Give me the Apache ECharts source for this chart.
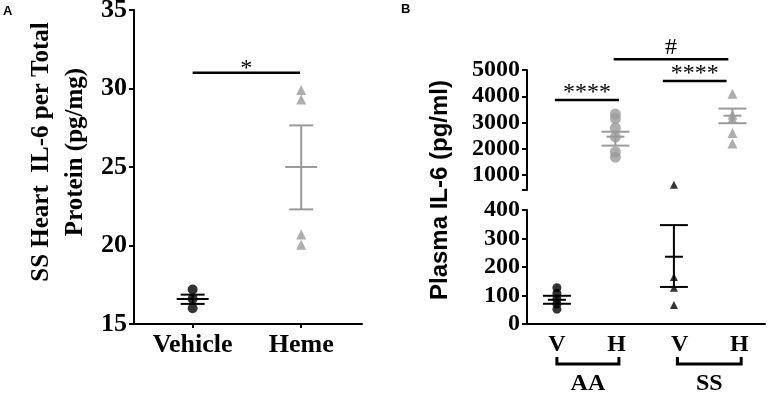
<!DOCTYPE html>
<html><head><meta charset="utf-8">
<script src="https://cdn.jsdelivr.net/npm/echarts@6/dist/echarts.min.js"></script>
<style>html,body{margin:0;padding:0;background:#fff}#c{width:768px;height:394px}</style>
</head><body><div id="c"></div>
<script>
// ---------- Panel A data ----------
const aCategories = ['Vehicle', 'Heme'];
const aCatPos = [1, 2];
const aTickLabels = [15, 20, 25, 30, 35];
const aVehicle = [17.2, 16.6, 16.0];
const aHeme = [29.9, 29.3, 20.7, 20.05];
const aVehicleStats = [16.6, 16.28, 16.87];   // mean, SEM low, SEM high
const aHemeStats = [25.0, 22.3, 27.65];
const aSig = [[1.0, 1.99, 31.0]];
const aSigText = ['*'];

// ---------- Panel B data ----------
const bCategories = ['V', 'H', 'V', 'H'];
const bCatPos = [1, 2.02, 3.1, 4.12];
const bGroups = ['AA', 'SS'];
const bGroupSpan = [[1.0, 2.06], [3.06, 4.15]];
const bTopTicks = [1000, 2000, 3000, 4000, 5000];
const bBottomTicks = [0, 100, 200, 300, 400];
const bTopMin = 430;      // lower end of the upper axis segment
const bBottomMax = 400;   // upper end of the lower axis segment
const bAAV = [127, 108, 88, 70, 52];
const bAAH = [3320, 3150, 2800, 2450, 1880, 1680];
const bSSV = [630, 165, 127, 67];
const bSSH = [4100, 3300, 3150, 2600, 2200];
const bAAVStats = [85, 71, 99];
const bAAHStats = [2460, 2120, 2650];
const bSSVStats = [236, 130, 347];
const bSSHStats = [3260, 2973, 3530];
const bSig = [[0.966, 2.06, 3857], [2.81, 3.90, 4581], [1.97, 3.93, 5408]];
const bSigText = ['****', '****', '#'];

// ---------- helpers ----------
const SERIF = 'Liberation Serif';
const GRAY = '#9a9a9a';

function errRender(capW, meanW, color) {
  return function (params, api) {
    const x = api.value(0), m = api.value(1), lo = api.value(2), hi = api.value(3);
    const pm = api.coord([x, m]), pl = api.coord([x, lo]), ph = api.coord([x, hi]);
    const st = { stroke: color, lineWidth: 2 };
    return { type: 'group', children: [
      { type: 'line', shape: { x1: pl[0], y1: pl[1], x2: ph[0], y2: ph[1] }, style: st },
      { type: 'line', shape: { x1: pl[0] - capW, y1: pl[1], x2: pl[0] + capW, y2: pl[1] }, style: st },
      { type: 'line', shape: { x1: ph[0] - capW, y1: ph[1], x2: ph[0] + capW, y2: ph[1] }, style: st },
      { type: 'line', shape: { x1: pm[0] - meanW, y1: pm[1], x2: pm[0] + meanW, y2: pm[1] }, style: st }
    ]};
  };
}
function sigRender(texts, fontSize, starOff, otherOff) {
  return function (params, api) {
    const p1 = api.coord([api.value(0), api.value(2)]);
    const p2 = api.coord([api.value(1), api.value(2)]);
    const t = texts[params.dataIndex];
    const off = t.indexOf('*') >= 0 ? starOff : otherOff;
    return { type: 'group', children: [
      { type: 'line', shape: { x1: p1[0], y1: p1[1], x2: p2[0], y2: p2[1] }, style: { stroke: '#000', lineWidth: 2.5 } },
      { type: 'text', style: { text: t, x: (p1[0] + p2[0]) / 2, y: p1[1] + off, align: 'center', verticalAlign: 'middle',
        fontFamily: SERIF, fontSize: fontSize, fill: '#000' } }
    ]};
  };
}
function bracketRender(params, api) {
  const p1 = api.coord([api.value(0), 0]);
  const p2 = api.coord([api.value(1), 0]);
  const y = p1[1];
  return { type: 'group', children: [
    { type: 'polyline', shape: { points: [[p1[0], y + 33], [p1[0], y + 40], [p2[0], y + 40], [p2[0], y + 33]] },
      style: { stroke: '#000', lineWidth: 3, fill: null } },
    { type: 'text', style: { text: bGroups[params.dataIndex], x: (p1[0] + p2[0]) / 2, y: y + 60, align: 'center',
      verticalAlign: 'middle', fontFamily: SERIF, fontWeight: 'bold', fontSize: 24, fill: '#000' } }
  ]};
}
const pts = (x, arr) => arr.map(v => [x, v]);
const axisLine = { show: true, onZero: false, lineStyle: { color: '#000', width: 2 } };
const tickStyle = { color: '#000', width: 2 };
const plain = v => String(v);

const chart = echarts.init(document.getElementById('c'), null, { renderer: 'canvas' });
chart.setOption({
  animation: false,
  backgroundColor: '#fff',
  title: [
    { text: 'A', left: 3, top: 5, padding: 0, textStyle: { fontSize: 13, fontWeight: 'bold', fontFamily: 'Liberation Sans', color: '#000' } },
    { text: 'B', left: 401, top: 3, padding: 0, textStyle: { fontSize: 13, fontWeight: 'bold', fontFamily: 'Liberation Sans', color: '#000' } }
  ],
  grid: [
    { left: 134, top: 10, width: 228, height: 314, outerBoundsMode: 'none' },
    { left: 527, top: 70, width: 238, height: 120, outerBoundsMode: 'none' },
    { left: 527, top: 210, width: 238, height: 114, outerBoundsMode: 'none' },
    { left: 527, top: 56, width: 238, height: 268, outerBoundsMode: 'none' }
  ],
  xAxis: [
    { gridIndex: 0, type: 'value', min: 0.46, max: 2.56, splitLine: { show: false }, axisLine: axisLine,
      axisTick: { show: true, length: 4, lineStyle: tickStyle, customValues: aCatPos },
      axisLabel: { customValues: aCatPos, formatter: v => aCategories[aCatPos.indexOf(v)] || '', margin: 8,
        fontFamily: SERIF, fontWeight: 'bold', fontSize: 26, color: '#000' } },
    { gridIndex: 1, type: 'value', min: 0.489, max: 4.557, show: false },
    { gridIndex: 2, type: 'value', min: 0.489, max: 4.557, splitLine: { show: false }, axisLine: axisLine,
      axisTick: { show: false },
      axisLabel: { customValues: bCatPos, formatter: v => bCategories[bCatPos.indexOf(v)] || '', margin: 9,
        fontFamily: SERIF, fontWeight: 'bold', fontSize: 24, color: '#000' } },
    { gridIndex: 3, type: 'value', min: 0, max: 1, show: false }
  ],
  yAxis: [
    { gridIndex: 0, type: 'value', min: 15, max: 35, interval: 5, splitLine: { show: false }, axisLine: axisLine,
      axisTick: { show: true, length: 5, lineStyle: tickStyle },
      axisLabel: { margin: 7, fontFamily: SERIF, fontWeight: 'bold', fontSize: 26, color: '#000',
        customValues: aTickLabels, formatter: plain },
      name: 'SS Heart  IL-6 per Total\nProtein (pg/mg)', nameLocation: 'middle', nameRotate: 90, nameGap: 41,
      nameTextStyle: { fontFamily: SERIF, fontWeight: 'bold', fontSize: 25, lineHeight: 34, color: '#000', padding: [0, 0, 0, 30] } },
    { gridIndex: 1, type: 'value', min: bTopMin, max: 5000, splitLine: { show: false }, axisLine: axisLine,
      axisTick: { show: true, length: 5, lineStyle: tickStyle, customValues: [bTopMin].concat(bTopTicks) },
      axisLabel: { customValues: bTopTicks, formatter: plain, margin: 7, fontFamily: SERIF, fontWeight: 'bold', fontSize: 24, color: '#000' } },
    { gridIndex: 2, type: 'value', min: 0, max: bBottomMax, interval: 100, splitLine: { show: false }, axisLine: axisLine,
      axisTick: { show: true, length: 5, lineStyle: tickStyle },
      axisLabel: { customValues: bBottomTicks, formatter: plain, margin: 7, fontFamily: SERIF, fontWeight: 'bold', fontSize: 24, color: '#000' } },
    { gridIndex: 3, type: 'value', min: 0, max: 1, axisLine: { show: false }, axisTick: { show: false },
      axisLabel: { show: false }, splitLine: { show: false },
      name: 'Plasma IL-6 (pg/ml)', nameLocation: 'middle', nameRotate: 90, nameGap: 75,
      nameTextStyle: { fontFamily: 'Liberation Sans', fontWeight: 'bold', fontSize: 24, color: '#000' } }
  ],
  series: [
    // Panel A
    { type: 'scatter', xAxisIndex: 0, yAxisIndex: 0, symbol: 'circle', symbolSize: 10, itemStyle: { color: '#000' },
      data: pts(aCatPos[0], aVehicle), silent: true },
    { type: 'scatter', xAxisIndex: 0, yAxisIndex: 0, symbol: 'triangle', symbolSize: 10, itemStyle: { color: GRAY },
      data: pts(aCatPos[1], aHeme), silent: true },
    { type: 'custom', xAxisIndex: 0, yAxisIndex: 0, renderItem: errRender(12, 16, '#000'),
      data: [[aCatPos[0]].concat(aVehicleStats)], silent: true, z: 3 },
    { type: 'custom', xAxisIndex: 0, yAxisIndex: 0, renderItem: errRender(12, 16, GRAY),
      data: [[aCatPos[1]].concat(aHemeStats)], silent: true, z: 3 },
    { type: 'custom', xAxisIndex: 0, yAxisIndex: 0, renderItem: sigRender(aSigText, 24, -4, -12),
      data: aSig, silent: true, clip: false },
    // Panel B - lower segment
    { type: 'scatter', xAxisIndex: 2, yAxisIndex: 2, symbol: 'circle', symbolSize: 9, itemStyle: { color: '#000' },
      data: pts(1, bAAV.filter(v => v <= bBottomMax)), silent: true },
    { type: 'scatter', xAxisIndex: 2, yAxisIndex: 2, symbol: 'triangle', symbolSize: 8, itemStyle: { color: '#000' },
      data: pts(3, bSSV.filter(v => v <= bBottomMax)), silent: true },
    { type: 'custom', xAxisIndex: 2, yAxisIndex: 2, renderItem: errRender(14, 9, '#000'),
      data: [[1].concat(bAAVStats), [3].concat(bSSVStats)], silent: true, z: 3 },
    { type: 'custom', xAxisIndex: 2, yAxisIndex: 2, renderItem: bracketRender,
      data: bGroupSpan, silent: true, clip: false },
    // Panel B - upper segment
    { type: 'scatter', xAxisIndex: 1, yAxisIndex: 1, symbol: 'circle', symbolSize: 11, itemStyle: { color: GRAY },
      data: pts(2, bAAH.filter(v => v >= bTopMin)), silent: true },
    { type: 'scatter', xAxisIndex: 1, yAxisIndex: 1, symbol: 'triangle', symbolSize: 10, itemStyle: { color: GRAY },
      data: pts(4, bSSH.filter(v => v >= bTopMin)), silent: true },
    { type: 'scatter', xAxisIndex: 1, yAxisIndex: 1, symbol: 'triangle', symbolSize: 8, itemStyle: { color: '#000' },
      data: pts(3, bSSV.filter(v => v >= bTopMin)), silent: true },
    { type: 'custom', xAxisIndex: 1, yAxisIndex: 1, renderItem: errRender(14, 9, GRAY),
      data: [[2].concat(bAAHStats), [4].concat(bSSHStats)], silent: true, z: 3 },
    { type: 'custom', xAxisIndex: 1, yAxisIndex: 1, renderItem: sigRender(bSigText, 24, -7, -12),
      data: bSig, silent: true, clip: false }
  ]
});
</script></body></html>
